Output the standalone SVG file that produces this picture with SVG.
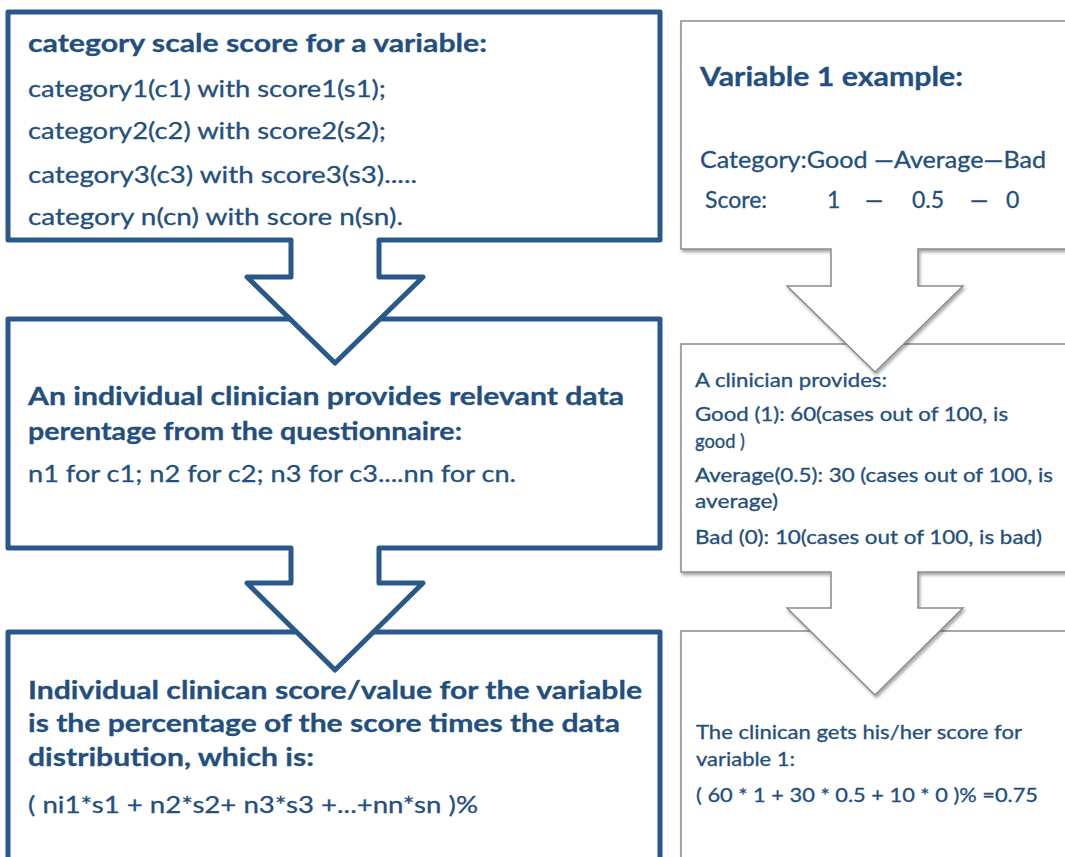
<svg xmlns="http://www.w3.org/2000/svg" width="1065" height="857" viewBox="0 0 1065 857">
  <defs>
    <filter id="shadow" x="-5%" y="-5%" width="115%" height="120%">
      <feDropShadow dx="1.5" dy="2.5" stdDeviation="1.6" flood-color="#000" flood-opacity="0.35"/>
    </filter>
  </defs>
  <style>
    .blue { fill:#ffffff; stroke:#28598a; stroke-width:5; stroke-linejoin:round; }
    .gray { fill:#ffffff; stroke:#8a8a8a; stroke-width:1.5; filter:url(#shadow); }
    text { font-family: Lato, "Liberation Sans", sans-serif; fill:#234f80; stroke:#234f80; stroke-width:0.3; }
    .hd { font-weight:bold; font-size:24.5px; }
    .bd { font-size:23.5px; }
    .hdr { font-weight:bold; font-size:26px; }
    .bdr { font-size:23px; }
    .sm { font-size:19px; }
  </style>
  <rect width="1065" height="857" fill="#ffffff"/>

  <!-- left column: general method (drawn bottom-up so each arrow sits above the next box) -->
  <g id="step3">
    <path class="blue" d="M8,632 H660 V880 H8 Z"/>
    <text class="hd" x="28" y="699" textLength="614" lengthAdjust="spacingAndGlyphs">Individual clinican score/value for the variable</text>
    <text class="hd" x="28" y="732" textLength="592" lengthAdjust="spacingAndGlyphs">is the percentage of the score times the data</text>
    <text class="hd" x="28" y="766" textLength="286" lengthAdjust="spacingAndGlyphs">distribution, which is:</text>
    <text class="bd" x="28" y="813" textLength="450" lengthAdjust="spacingAndGlyphs">( ni1*s1 + n2*s2+ n3*s3 +...+nn*sn )%</text>
  </g>

  <g id="step2">
    <path class="blue" d="M8,319 H660 V548 H379 V583 H423 L335,670 L247,583 H291 V548 H8 Z"/>
    <text class="hd" x="28" y="405" textLength="596" lengthAdjust="spacingAndGlyphs">An individual clinician provides relevant data</text>
    <text class="hd" x="28" y="440" textLength="434" lengthAdjust="spacingAndGlyphs">perentage from the questionnaire:</text>
    <text class="bd" x="28" y="482" textLength="488" lengthAdjust="spacingAndGlyphs">n1 for c1; n2 for c2; n3 for c3....nn for cn.</text>
  </g>

  <g id="step1">
    <path class="blue" d="M8,12 H660 V240 H379 V277 H423 L335,363 L247,277 H291 V240 H8 Z"/>
    <text class="hd" x="28" y="52" textLength="459" lengthAdjust="spacingAndGlyphs">category scale score for a variable:</text>
    <text class="bd" x="28" y="97" textLength="358" lengthAdjust="spacingAndGlyphs">category1(c1) with score1(s1);</text>
    <text class="bd" x="28" y="139" textLength="358" lengthAdjust="spacingAndGlyphs">category2(c2) with score2(s2);</text>
    <text class="bd" x="28" y="183" textLength="389" lengthAdjust="spacingAndGlyphs">category3(c3) with score3(s3).....</text>
    <text class="bd" x="28" y="225" textLength="375" lengthAdjust="spacingAndGlyphs">category n(cn) with score n(sn).</text>
  </g>

  <!-- right column: worked example -->
  <g id="example3">
    <path class="gray" d="M681,631 H1090 V880 H681 Z"/>
    <text class="sm" x="696" y="739" textLength="326" lengthAdjust="spacingAndGlyphs">The clinican gets his/her score for</text>
    <text class="sm" x="696" y="766" textLength="99" lengthAdjust="spacingAndGlyphs">variable 1:</text>
    <text class="sm" x="696" y="802" textLength="342" lengthAdjust="spacingAndGlyphs">( 60 * 1 + 30 * 0.5 + 10 * 0 )% =0.75</text>
  </g>

  <g id="example2">
    <path class="gray" d="M681,344 H1090 V572 H918 V608 H963 L875,695 L787,608 H831 V572 H681 Z"/>
    <text class="sm" x="695" y="387" textLength="192" lengthAdjust="spacingAndGlyphs">A clinician provides:</text>
    <text class="sm" x="695" y="421" textLength="313" lengthAdjust="spacingAndGlyphs">Good (1): 60(cases out of 100, is</text>
    <text class="sm" x="695" y="448" textLength="50" lengthAdjust="spacingAndGlyphs">good )</text>
    <text class="sm" x="695" y="482" textLength="358" lengthAdjust="spacingAndGlyphs">Average(0.5): 30 (cases out of 100, is</text>
    <text class="sm" x="695" y="508" textLength="83" lengthAdjust="spacingAndGlyphs">average)</text>
    <text class="sm" x="695" y="544" textLength="347" lengthAdjust="spacingAndGlyphs">Bad (0): 10(cases out of 100, is bad)</text>
  </g>

  <g id="example1">
    <path class="gray" d="M681,21 H1090 V249 H918 V286 H963 L875,372 L787,286 H831 V249 H681 Z"/>
    <text class="hdr" x="700" y="86" textLength="263" lengthAdjust="spacingAndGlyphs">Variable 1 example:</text>
    <text class="bdr" x="700" y="168" textLength="346" lengthAdjust="spacingAndGlyphs">Category:Good —Average—Bad</text>
    <text class="bdr" y="208"><tspan x="705">Score:</tspan><tspan x="827">1</tspan><tspan x="865">—</tspan><tspan x="912">0.5</tspan><tspan x="970">—</tspan><tspan x="1006">0</tspan></text>
  </g>
</svg>
